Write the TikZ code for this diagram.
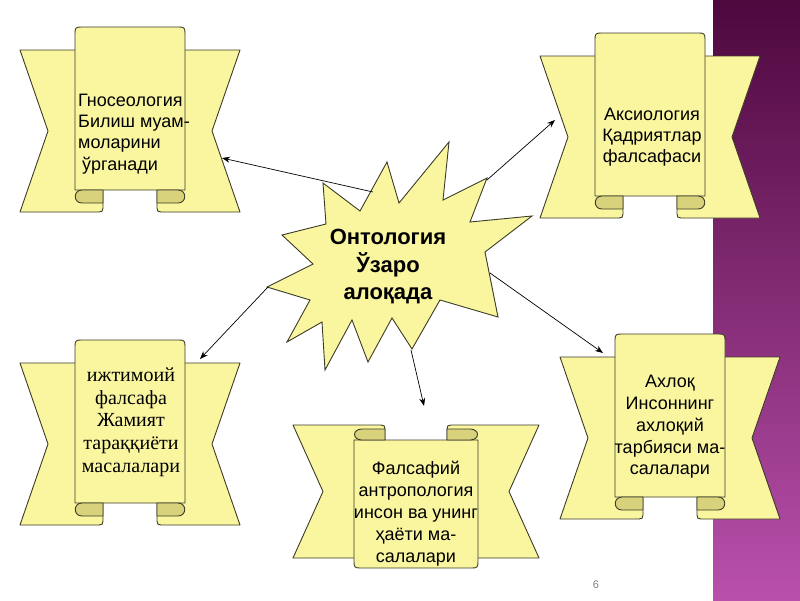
\documentclass[tikz,border=0pt]{standalone}
\usepackage{fontspec}
\setmainfont{Liberation Sans}
\newfontfamily\serifcyr{Liberation Serif}
\usetikzlibrary{arrows.meta}

\definecolor{ribbonfill}{RGB}{250,246,160}
\definecolor{rollfill}{RGB}{216,210,124}
\definecolor{edgecol}{RGB}{60,60,40}
\definecolor{stripTop}{RGB}{78,8,62}
\definecolor{stripBot}{RGB}{185,80,172}

\tikzset{
 rib/.style={fill=ribbonfill, draw=edgecol, line width=0.9pt, line join=round},
 rollpart/.style={fill=rollfill, draw=edgecol, line width=0.9pt, line join=round},
 lbl/.style={font=\fontsize{18}{21.2}\selectfont, align=center, inner sep=0pt, text=black},
 conn/.style={draw=black, line width=0.7pt, -{Stealth[length=8pt,width=6pt]}},
 star/.style={fill=ribbonfill, draw=edgecol, line width=0.9pt, line join=miter},
}

% up ribbon: panel raised, rolls at bottom; #1,#2 = left x, top y
\newcommand{\upribbon}[2]{%
\begin{scope}[shift={(#1,#2)}]
 \path[rib] (0,23) -- (83,23) -- (83,181) .. controls (83,184) and (82,185) .. (79,185) -- (0,185) -- (28,104) -- cycle;
 \path[rib] (220,23) -- (137,23) -- (137,181) .. controls (137,184) and (138,185) .. (141,185) -- (220,185) -- (192,104) -- cycle;
 \path[rib] (55,163) -- (55,6) .. controls (55,1) and (56,0) .. (61,0) -- (159,0) .. controls (164,0) and (165,1) .. (165,6) -- (165,163) -- cycle;
 \path[rollpart] (83,163) -- (62,163) .. controls (53,163) and (53,176) .. (62,176) -- (83,176) -- cycle;
 \path[rollpart] (137,163) -- (158,163) .. controls (167,163) and (167,176) .. (158,176) -- (137,176) -- cycle;
\end{scope}}

% down ribbon: panel lowered, rolls at top
\newcommand{\downribbon}[2]{%
\begin{scope}[shift={(#1,#2)}]
 \path[rib] (0,133) -- (92,133) -- (92,4) .. controls (92,1) and (91,0) .. (88,0) -- (0,0) -- (30,66.5) -- cycle;
 \path[rib] (246,133) -- (154,133) -- (154,4) .. controls (154,1) and (155,0) .. (158,0) -- (246,0) -- (216,66.5) -- cycle;
 \path[rib] (61,15) -- (61,137) .. controls (61,142) and (62,143) .. (67,143) -- (179,143) .. controls (184,143) and (185,142) .. (185,137) -- (185,15) -- cycle;
 \path[rollpart] (92,15) -- (69,15) .. controls (59,15) and (59,4) .. (69,4) -- (92,4) -- cycle;
 \path[rollpart] (154,15) -- (177,15) .. controls (187,15) and (187,4) .. (177,4) -- (154,4) -- cycle;
\end{scope}}

\begin{document}
\begin{tikzpicture}[x=1pt,y=-1pt]
\useasboundingbox (0,0) rectangle (800,600);
\fill[white] (0,0) rectangle (800,600);
\shade[top color=stripTop, bottom color=stripBot] (713,0) rectangle (800,600);

% ribbons
\upribbon{20}{27}
\upribbon{540}{33}
\upribbon{20}{340}
\upribbon{560}{334}
\downribbon{293}{425}

% star
\path[star] (399,203) -- (449,142) -- (443,200) -- (487,178) -- (470,222) -- (532,216)
  -- (485,252) -- (498,317) -- (440,300) -- (412,349) -- (392,318) -- (368,362)
  -- (352,320) -- (325,370) -- (322,322) -- (287,342) -- (310,300) -- (267,287)
  -- (313,264) -- (282,235) -- (326,224) -- (323,183) -- (360,211) -- (387,162) -- cycle;

% texts
\node[lbl, align=left, anchor=west] (gno) at (78,134) {Гносеология\\Билиш муам-\\моларини\\\hspace{4pt}ўрганади};
\node[lbl] (aks) at (652,137) {Аксиология\\Қадриятлар\\фалсафаси};
\node[lbl, font=\serifcyr\fontsize{20}{22.7}\selectfont] (ijt) at (131,422) {ижтимоий\\фалсафа\\Жамият\\тараққиёти\\масалалари};
\node[lbl, font=\fontsize{18}{22}\selectfont] (fal) at (416,514) {Фалсафий\\антропология\\инсон ва унинг\\ҳаёти ма-\\салалари};
\node[lbl, font=\fontsize{18}{21.8}\selectfont] (axl) at (670,427) {Ахлоқ\\Инсоннинг\\ахлоқий\\тарбияси ма-\\салалари};
\node[lbl, font=\bfseries\fontsize{22}{27.5}\selectfont] (ont) at (388,267) {Онтология\\Ўзаро\\алоқада};
\node[font=\fontsize{11}{13}\selectfont, text=gray, inner sep=0pt] (pg) at (596,585) {6};

% connector end points
\coordinate (s1) at (373,192); \coordinate (e1) at (222,158);
\coordinate (s2) at (487,180); \coordinate (e2) at (555,120);
\coordinate (s3) at (268,287); \coordinate (e3) at (200,359);
\coordinate (s4) at (411,350); \coordinate (e4) at (424,406);
\coordinate (s5) at (490,273); \coordinate (e5) at (603,353);
\draw[conn] (s1) -- (e1);
\draw[conn] (s2) -- (e2);
\draw[conn] (s3) -- (e3);
\draw[conn] (s4) -- (e4);
\draw[conn] (s5) -- (e5);
\end{tikzpicture}
\end{document}
